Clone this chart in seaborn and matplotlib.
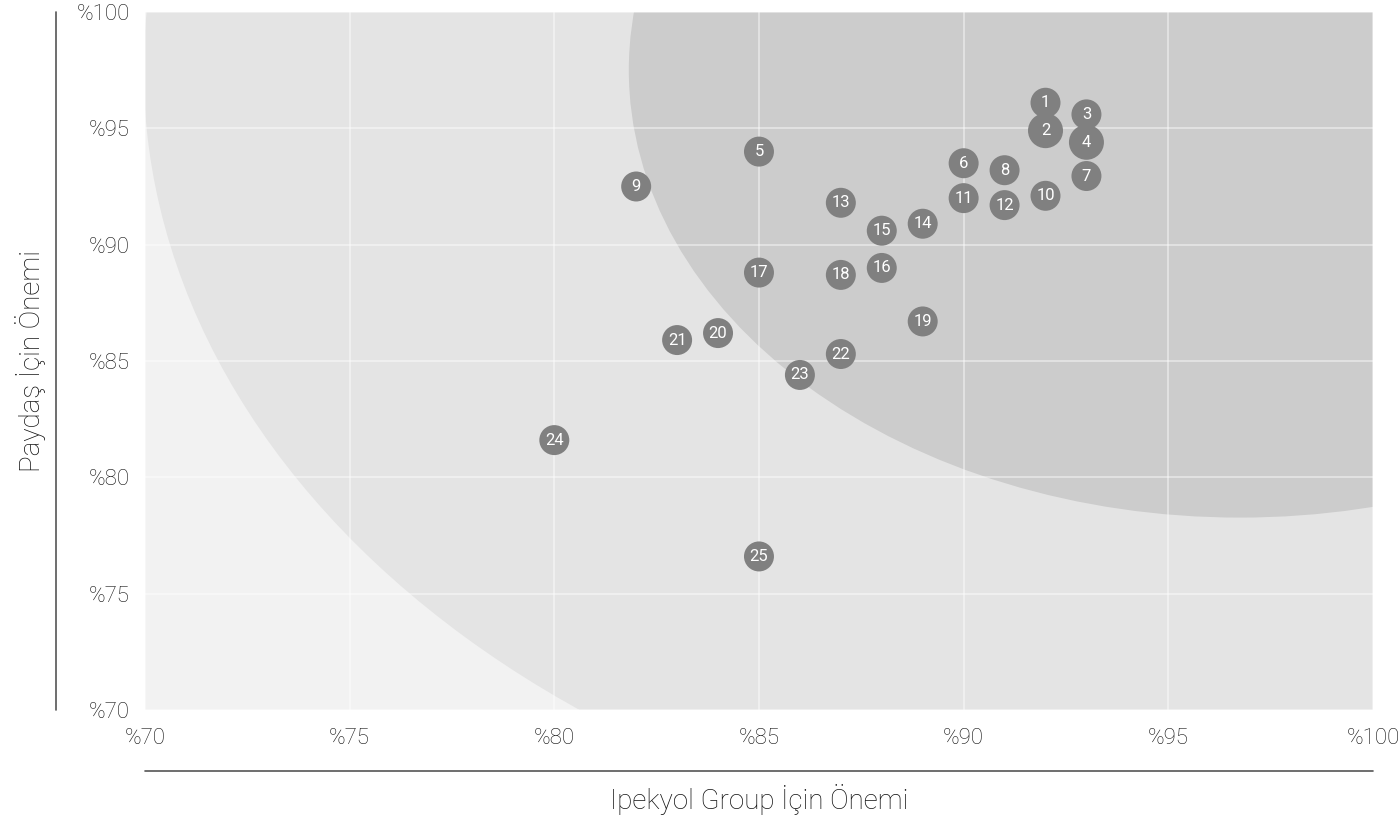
import matplotlib
matplotlib.use("Agg")
import matplotlib.pyplot as plt
from matplotlib.patches import Ellipse
import pandas as pd
import seaborn as sns

# Önem değerleri (yüzde)
labels = [str(i) for i in range(1, 26)]
ipekyol = [92, 92, 93, 93, 85, 90, 93, 91, 82, 92, 90, 91, 87, 89, 88, 88, 85, 87, 89, 84, 83, 87, 86, 80, 85]
paydas = [96.1, 94.9, 95.6, 94.4, 94.0, 93.5, 92.95, 93.2, 92.5, 92.1, 92.0, 91.7, 91.8, 90.9, 90.6,
          89.0, 88.8, 88.7, 86.7, 86.2, 85.9, 85.3, 84.4, 81.6, 76.6]
buyuk = [0, 1, 0, 1] + [0] * 21

ticks = [70, 75, 80, 85, 90, 95, 100]
tick_labels = ["%70", "%75", "%80", "%85", "%90", "%95", "%100"]

df = pd.DataFrame({"x": ipekyol, "y": paydas, "etiket": labels, "buyuk": buyuk})

sns.set_theme(style="white")
plt.rcParams["font.family"] = ["Roboto", "DejaVu Sans"]
plt.rcParams["font.weight"] = "light"

fig = plt.figure(figsize=(13.98, 8.16), dpi=100)
ax = fig.add_axes([0.1037, 0.1299, 0.8784, 0.8554])
ax.set_facecolor("#f2f2f2")

# arka plan bölgeleri
ax.add_patch(Ellipse((96.75, 97.5), 53.56, 68.9, facecolor="#e4e4e4", edgecolor="none", zorder=0))
ax.add_patch(Ellipse((96.75, 97.5), 29.86, 38.46, facecolor="#cccccc", edgecolor="none", zorder=0.5))

ax.set_xlim(70, 100)
ax.set_ylim(70, 100)
ax.set_xticks(ticks)
ax.set_xticklabels(tick_labels)
ax.set_yticks(ticks)
ax.set_yticklabels(tick_labels)
ax.grid(True, color="white", alpha=0.5, linewidth=1.2)
for gl in ax.get_xgridlines() + ax.get_ygridlines():
    gl.set_zorder(1)

sns.scatterplot(data=df, x="x", y="y", size="buyuk", sizes={0: 466, 1: 635},
                color="#808080", edgecolor="none", linewidth=0, legend=False, ax=ax, zorder=3)

for _, r in df.iterrows():
    ax.text(r["x"], r["y"], r["etiket"], color="white", fontsize=12, fontweight="normal",
            ha="center", va="center", zorder=4)

ax.tick_params(axis="both", length=0, labelsize=16, labelcolor="#111111")
ax.tick_params(axis="x", pad=13)
ax.tick_params(axis="y", pad=11)
for s in ax.spines.values():
    s.set_visible(False)

# eksen çizgileri dışarıda
ax.plot([-0.0725, -0.0725], [0, 1], transform=ax.transAxes, color="#555555", lw=1.2, clip_on=False)
ax.plot([0, 1], [-0.0874, -0.0874], transform=ax.transAxes, color="#555555", lw=1.2, clip_on=False)

ax.set_xlabel("Ipekyol Group İçin Önemi", fontsize=20, color="#111111", fontweight="light")
ax.set_ylabel("Paydaş İçin Önemi", fontsize=20, color="#111111", fontweight="light")
ax.xaxis.set_label_coords(0.5, -0.106)
ax.yaxis.set_label_coords(-0.081, 0.5)

fig.savefig("out.png", dpi=100)
